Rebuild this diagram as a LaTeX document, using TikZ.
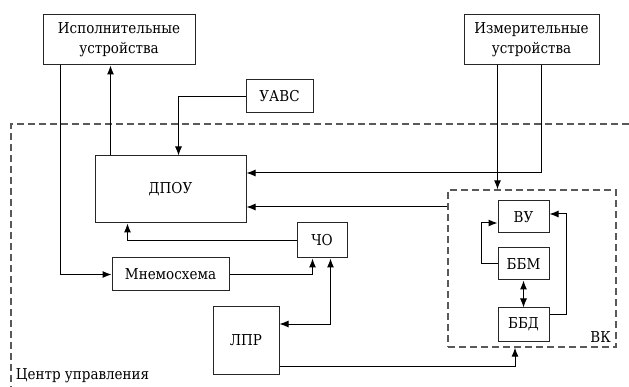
\documentclass[tikz,border=0pt]{standalone}
\usepackage{fontspec}
\setmainfont{DejaVu Serif Condensed}
\usetikzlibrary{arrows.meta}

\begin{document}
\begin{tikzpicture}[x=1pt, y=-1pt, line width=1pt,
    font=\fontsize{15}{20}\selectfont,
    blk/.style={draw=black!85, rectangle, inner sep=0pt, align=center},
    arr/.style={black, -{Latex[length=9pt,width=7pt]}},
    darr/.style={black, {Latex[length=9pt,width=7pt]}-{Latex[length=9pt,width=7pt]}},
    zone/.style={draw=black!65, dash pattern=on 7pt off 4pt, line width=1.3pt}]

    \useasboundingbox (0,0) rectangle (629,387);

    % outer zone (control centre)
    \draw[zone] (629,124) -- (11,124) -- (11,387);
    \node[anchor=west] (cu) at (12,376) {Центр управления};

    % blocks
    \node[blk, minimum width=152, minimum height=50] (isp) at (119,40) {Исполнительные\\устройства};
    \node[blk, minimum width=135, minimum height=50] (izm) at (531.5,40) {Измерительные\\устройства};
    \node[blk, minimum width=67, minimum height=33] (uavs) at (279.5,96.5) {УАВС};
    \node[blk, minimum width=151, minimum height=67] (dpou) at (170.5,189.5) {ДПОУ};
    \node[blk, minimum width=50, minimum height=35] (cho) at (322,240.5) {ЧО};
    \node[blk, minimum width=117, minimum height=33] (mnemo) at (170.5,274.5) {Мнемосхема};
    \node[blk, minimum width=66, minimum height=67] (lpr) at (246,340.5) {ЛПР};

    % computing complex
    \node[zone, rectangle, minimum width=168, minimum height=157] (vk) at (532,268.5) {};
    \node[anchor=south east] (vkl) at ([xshift=-2pt,yshift=1pt]vk.south east) {ВК};
    \node[blk, minimum width=51, minimum height=32] (vu) at (523.5,217) {ВУ};
    \node[blk, minimum width=51, minimum height=32] (bbm) at (523.5,264) {ББМ};
    \node[blk, minimum width=51, minimum height=33] (bbd) at (523.5,324.5) {ББД};

    % connections
    \draw[arr] ([xshift=16pt]dpou.north west) -- ([xshift=16pt]dpou.north west |- isp.south);
    \draw[arr] ([xshift=18pt]isp.south west) |- (mnemo.west);
    \draw[arr] (uavs.west) -| ([xshift=84pt]dpou.north west);
    \draw[arr] ([xshift=78pt]izm.south west) |- ([yshift=16.5pt]dpou.east);
    \draw[arr] (vu.west |- izm.south) -- (vu.west |- vk.north);
    \draw[arr] (vk.west |- 0,207) -- ([yshift=-17.5pt]dpou.east);
    \draw[arr] (cho.west) -| ([xshift=33pt]dpou.south west);
    \draw[arr] (mnemo.east) -| ([xshift=16pt]cho.south west);
    \draw[darr] ([xshift=34pt]cho.south west) |- ([yshift=16.5pt]lpr.east);
    \draw[arr] ([yshift=-25.5pt]lpr.east) -| ([xshift=-17pt]vk.south);

    \draw[arr] (bbm.west) -- ++(-16,0) |- ([yshift=-6pt]vu.west);
    \draw[arr] ([yshift=10pt]bbd.east) -- ++(17,0) |- ([yshift=3pt]vu.east);
    \draw[darr] (bbm.south) -- (bbd.north);

\end{tikzpicture}
\end{document}
